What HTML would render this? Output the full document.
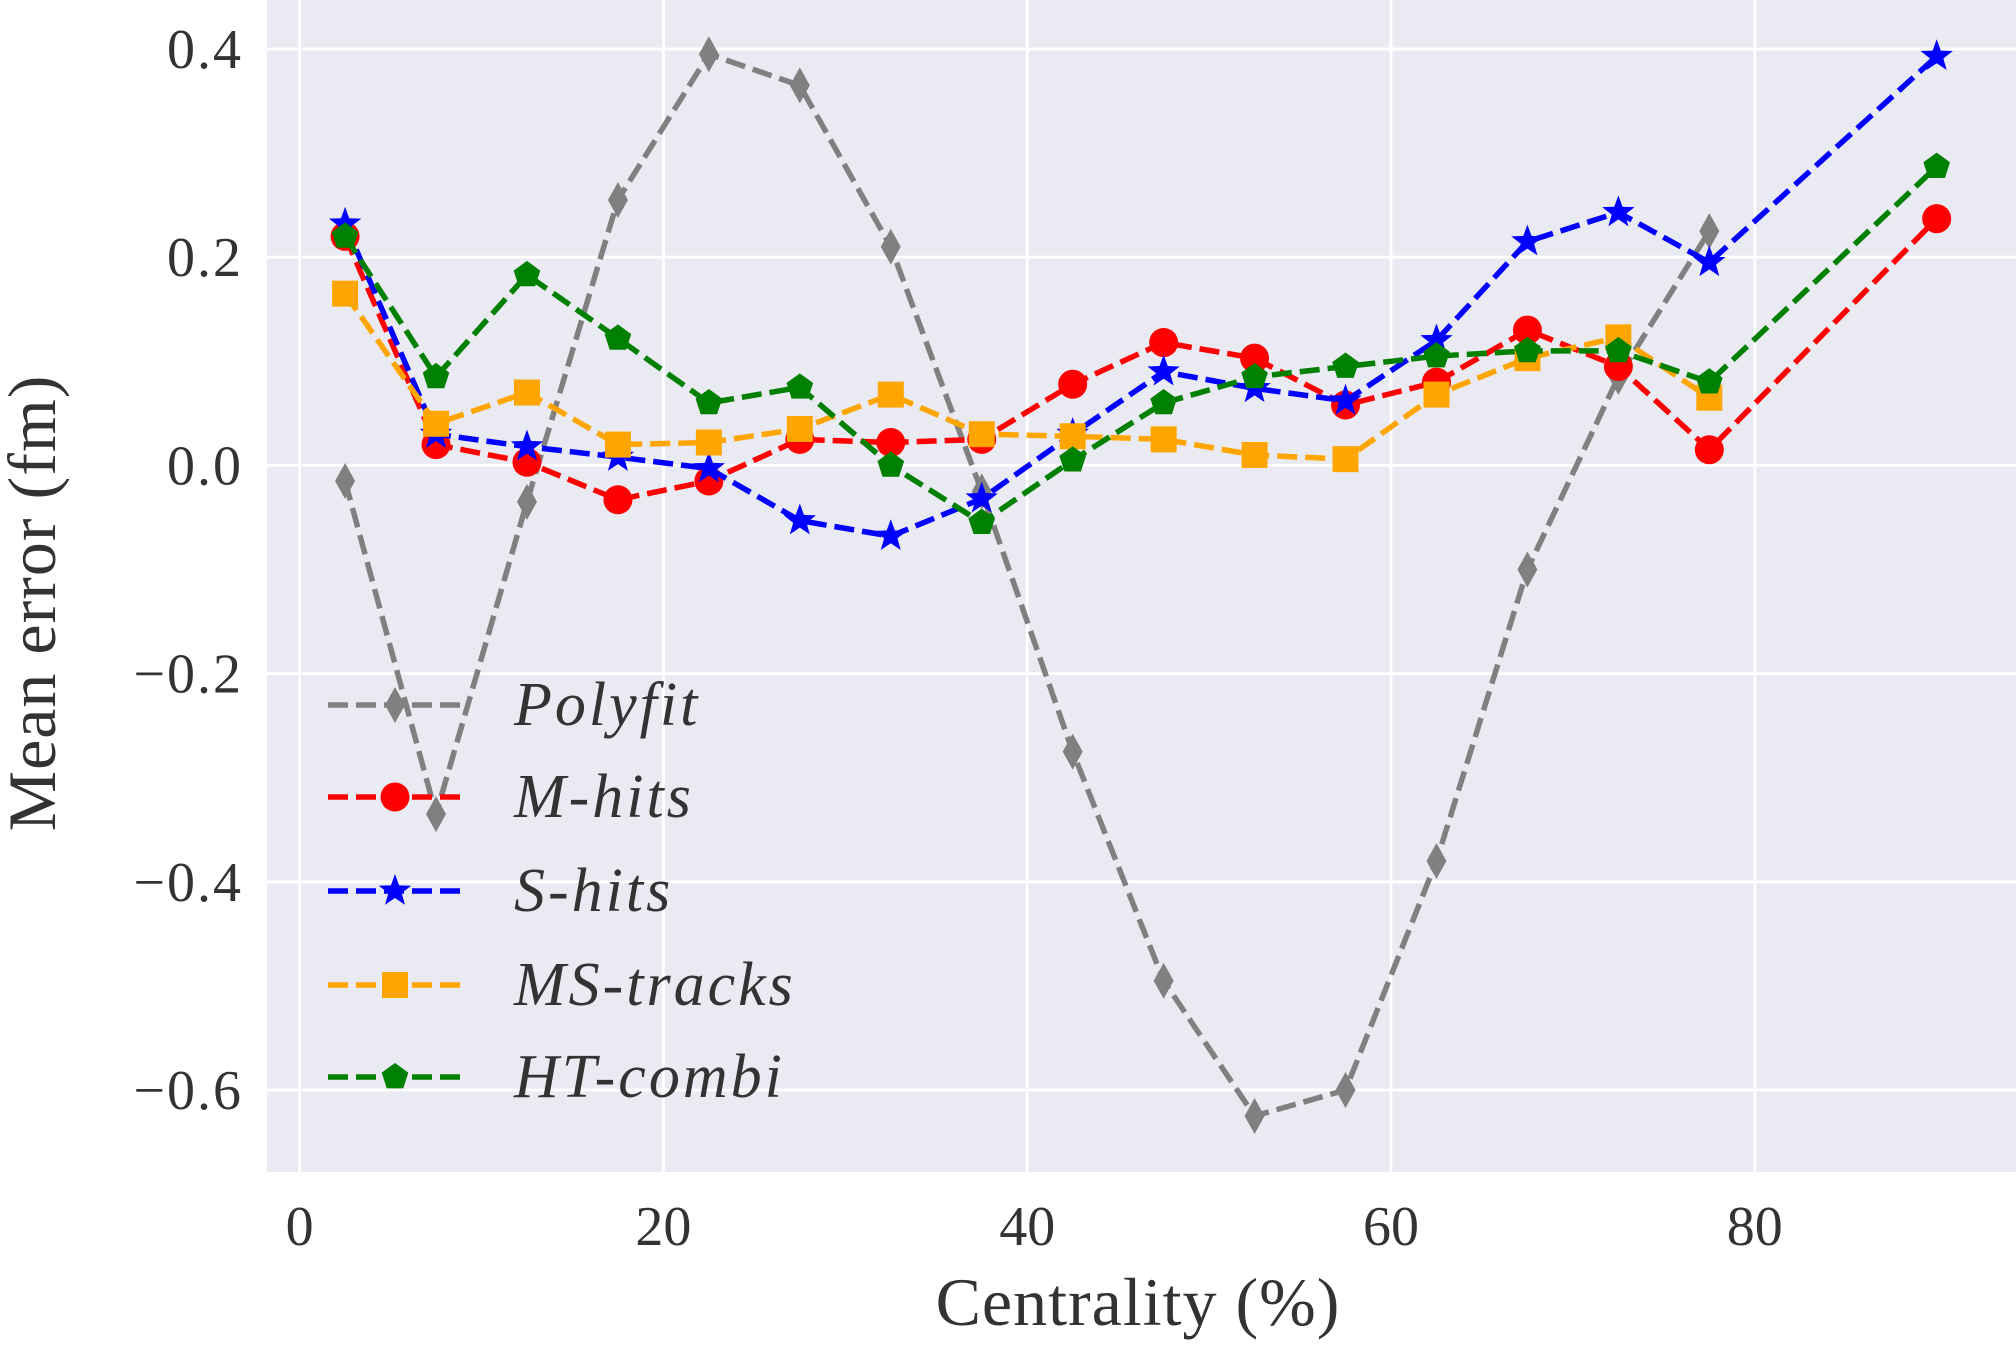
<!DOCTYPE html>
<html><head><meta charset="utf-8">
<style>
html,body{margin:0;padding:0;background:#fff;}
svg{display:block;}
text{font-family:"Liberation Serif","DejaVu Serif",serif;fill:#333;}
</style></head>
<body>
<svg id="chart" width="2016" height="1348" viewBox="0 0 2016 1348" xmlns="http://www.w3.org/2000/svg"></svg>
<script>
const xCats = [2.5,7.5,12.5,17.5,22.5,27.5,32.5,37.5,42.5,47.5,52.5,57.5,62.5,67.5,72.5,77.5,90];
const polyfit = [-0.015,-0.335,-0.035,0.255,0.395,0.365,0.21,-0.025,-0.275,-0.495,-0.625,-0.6,-0.38,-0.1,0.085,0.225,null];
const mhits = [0.22,0.02,0.003,-0.033,-0.015,0.025,0.022,0.025,0.078,0.118,0.103,0.058,0.08,0.13,0.095,0.015,0.237];
const shits = [0.232,0.03,0.018,0.008,-0.003,-0.053,-0.068,-0.032,0.03,0.09,0.074,0.062,0.12,0.215,0.243,0.195,0.393];
const mstracks = [0.165,0.04,0.07,0.02,0.022,0.035,0.068,0.03,0.028,0.025,0.01,0.006,0.068,0.103,0.123,0.065,null];
const htcombi = [0.22,0.085,0.183,0.122,0.06,0.075,0.0,-0.055,0.005,0.06,0.085,0.095,0.105,0.11,0.11,0.08,0.287];
const xTicks = [0,20,40,60,80];
const yTicks = [-0.6,-0.4,-0.2,0.0,0.2,0.4];
const yTickLabels = ["\u22120.6","\u22120.4","\u22120.2","0.0","0.2","0.4"];

const NS="http://www.w3.org/2000/svg";
const svg=document.getElementById('chart');
const X=v=>299.6+v*18.19;
const Y=v=>465.4-v*1041;
function el(tag,attrs,parent){const e=document.createElementNS(NS,tag);for(const k in attrs)e.setAttribute(k,attrs[k]);(parent||svg).appendChild(e);return e;}

const bg=el('rect',{x:267,y:0,width:1749,height:1172,fill:'#eaeaf2'});



xTicks.forEach(t=>{
  const g=el('line',{x1:X(t),x2:X(t),y1:0,y2:1172,stroke:'#fff','stroke-width':2.8});
  
  
  const tx=el('text',{x:X(t),y:1245,'text-anchor':'middle','font-size':56});
  tx.textContent=t;
  
  
});
yTicks.forEach((t,i)=>{
  const g=el('line',{x1:267,x2:2016,y1:Y(t),y2:Y(t),stroke:'#fff','stroke-width':2.8});
  
  
  const tx=el('text',{x:243,y:Y(t)+19,'text-anchor':'end','font-size':56,'letter-spacing':2});
  tx.textContent=yTickLabels[i];
  
  
});
const xt=el('text',{x:1138,y:1325,'text-anchor':'middle','font-size':68,'letter-spacing':1});
xt.textContent='Centrality (%)';


const yt=el('text',{x:0,y:0,'text-anchor':'middle','font-size':68,'letter-spacing':1,transform:'translate(55,603) rotate(-90)'});
yt.textContent='Mean error (fm)';



function marker(type,cx,cy,color,parent){
  let m;
  if(type==='circle') m=el('circle',{cx,cy,r:14.5,fill:color},parent);
  else if(type==='square') m=el('rect',{x:cx-13,y:cy-13,width:26,height:26,fill:color},parent);
  else if(type==='diamond') m=el('polygon',{points:`${cx},${cy-18} ${cx+10},${cy} ${cx},${cy+18} ${cx-10},${cy}`,fill:color},parent);
  else if(type==='pentagon'){let p=[];for(let i=0;i<5;i++){const a=-Math.PI/2+i*2*Math.PI/5;p.push((cx+14*Math.cos(a))+','+(cy+14*Math.sin(a)));}m=el('polygon',{points:p.join(' '),fill:color},parent);}
  else if(type==='star'){let p=[];for(let i=0;i<10;i++){const a=-Math.PI/2+i*Math.PI/5;const r=i%2?7:17;p.push((cx+r*Math.cos(a))+','+(cy+r*Math.sin(a)));}m=el('polygon',{points:p.join(' '),fill:color},parent);}
  return m;
}
const series=[
 {name:'Polyfit',vals:polyfit,color:'#808080',m:'diamond'},
 {name:'M-hits',vals:mhits,color:'#ff0000',m:'circle'},
 {name:'S-hits',vals:shits,color:'#0000ff',m:'star'},
 {name:'MS-tracks',vals:mstracks,color:'#ffa500',m:'square'},
 {name:'HT-combi',vals:htcombi,color:'#008000',m:'pentagon'}
];
series.forEach((s,si)=>{
  const g=el('g',{});
  
  
  const pts=[];
  s.vals.forEach((v,i)=>{if(v!==null)pts.push([X(xCats[i]),Y(v)]);});
  el('polyline',{points:pts.map(p=>p.join(',')).join(' '),fill:'none',stroke:s.color,'stroke-width':5.5,'stroke-dasharray':'20,8'},g);
  pts.forEach(p=>{
    const m=marker(s.m,p[0],p[1],s.color,g);
    
    
  });
  const ly=[705,797,891,985,1077][si];
  const lg=el('g',{});
  
  
  el('line',{x1:328,x2:463,y1:ly,y2:ly,stroke:s.color,'stroke-width':5.5,'stroke-dasharray':'20,8'},lg);
  marker(s.m,395,ly,s.color,lg);
  const t=el('text',{x:514,y:ly+20,'font-size':62,'font-style':'italic','letter-spacing':3},lg);
  t.textContent=s.name;
});
</script>
</body></html>
